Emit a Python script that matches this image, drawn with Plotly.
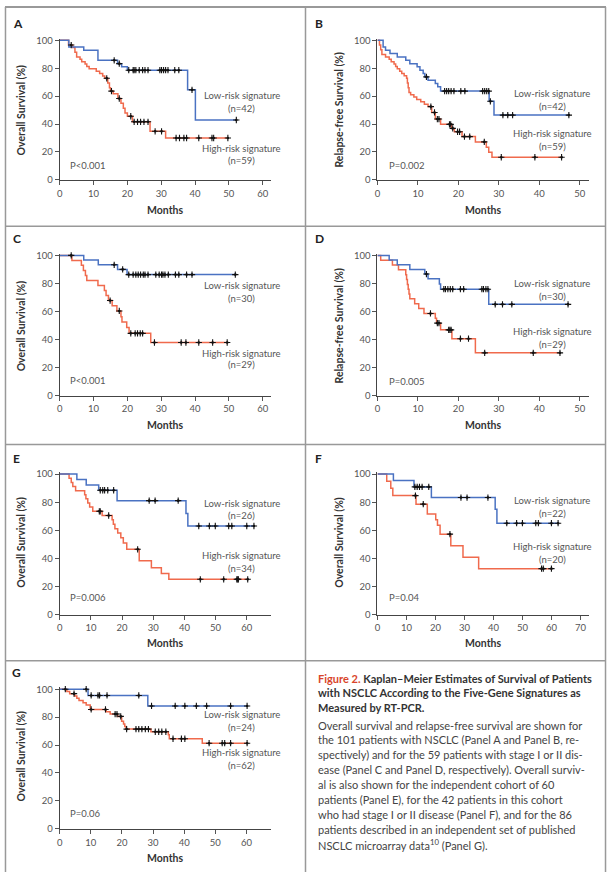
import plotly.graph_objects as go

W, H = 609, 877
BLUE = "#4a72c2"
RED = "#f06a4d"
FONT = "Lato"

# ---------------- data (months, survival %) ----------------
A_LOW_T = [0, 2.7, 7.1, 11.3, 17.1, 18.3, 20.0, 37.8, 40.1, 52.2]
A_LOW_S = [100, 95.2, 92.9, 85.7, 83.3, 81.0, 78.6, 64.5, 42.9, 42.9]
A_LOW_C = [16.1, 17.6, 20.4, 21.7, 22.0, 22.5, 23.5, 24.5, 25.2, 26.1, 29.6, 30.1,
           30.7, 31.3, 32.0, 34.0, 35.2, 39.1, 52.2]
A_HIGH_T = [0, 2.6, 3.8, 4.5, 5.0, 6.0, 6.5, 7.5, 8.0, 8.7, 10.8, 11.8, 12.7, 13.3,
            14.2, 14.7, 15.0, 15.8, 17.2, 18.1, 18.8, 19.3, 20.0, 21.5, 26.7, 31.3, 49.7]
A_HIGH_S = [100, 96.6, 94.9, 91.5, 88.1, 86.4, 84.7, 83.0, 81.3, 79.6, 77.9, 76.2, 74.5,
            72.8, 69.4, 66.0, 63.6, 61.7, 58.3, 54.9, 51.4, 48.0, 45.6, 41.6, 34.8, 30.0, 30.0]
A_HIGH_C = [3.4, 13.9, 15.3, 17.6, 21.0, 22.0, 23.0, 23.9, 24.9, 26.1, 28.2, 30.1, 34.4,
            35.4, 36.7, 37.5, 41.1, 45.0, 45.5, 49.7]

B_LOW_T = [0, 1.4, 2.0, 3.1, 4.9, 7.0, 8.0, 9.8, 10.5, 11.3, 11.7, 12.5, 14.3, 14.9,
           15.6, 27.6, 28.8, 47.3]
B_LOW_S = [100, 95.2, 92.9, 90.5, 88.1, 85.7, 83.3, 81.0, 78.6, 76.2, 73.8, 71.4, 69.0,
           66.7, 63.6, 56.3, 46.4, 46.4]
B_LOW_C = [12.1, 16.6, 17.1, 17.6, 18.2, 18.9, 20.6, 21.6, 26.0, 26.5, 27.0, 27.5, 27.9,
           31.0, 32.2, 33.4, 47.3]
B_HIGH_T = [0, 0.5, 0.8, 1.1, 2.0, 2.9, 3.4, 4.1, 4.5, 4.9, 5.5, 6.0, 6.6, 7.2, 7.4, 7.6,
            7.8, 8.2, 9.0, 9.7, 10.7, 11.6, 12.5, 13.4, 14.3, 15.6, 18.3, 19.0, 20.9, 24.2,
            26.9, 27.5, 28.3, 45.5]
B_HIGH_S = [100, 96.6, 93.2, 89.8, 88.1, 86.4, 84.7, 83.0, 81.3, 79.6, 77.9, 76.3, 74.6,
            72.9, 69.5, 66.1, 62.7, 61.0, 59.3, 57.6, 55.9, 54.2, 52.5, 48.3, 43.6, 39.8,
            36.9, 34.5, 31.0, 27.2, 23.4, 19.8, 16.2, 16.2]
B_HIGH_C = [13.2, 14.1, 14.8, 15.2, 17.8, 18.1, 18.6, 19.8, 20.3, 21.5, 22.8, 26.4, 30.6,
            38.9, 45.5]

C_LOW_T = [0, 7.1, 11.4, 17.1, 19.9, 51.9]
C_LOW_S = [100, 96.7, 93.3, 90.0, 86.3, 86.3]
C_LOW_C = [16.1, 18.6, 20.4, 21.7, 22.5, 23.2, 23.9, 24.7, 25.2, 26.1, 28.4, 29.4, 30.1,
           30.5, 31.1, 32.1, 34.2, 35.2, 37.5, 39.1, 51.9]
C_HIGH_T = [0, 3.6, 6.4, 7.0, 7.6, 8.0, 11.3, 13.2, 13.7, 14.4, 15.5, 16.9, 18.1, 18.4,
            19.8, 20.5, 26.9, 49.5]
C_HIGH_S = [100, 96.4, 92.9, 89.3, 85.7, 82.1, 78.6, 75.0, 71.4, 67.8, 64.1, 60.4, 56.3,
            52.5, 48.6, 44.4, 37.9, 37.9]
C_HIGH_C = [3.4, 14.9, 17.6, 21.0, 22.3, 23.0, 23.8, 24.5, 28.0, 35.9, 37.3, 41.1, 45.2, 49.5]

D_LOW_T = [0, 2.9, 4.9, 8.0, 11.7, 12.5, 15.3, 15.6, 27.5, 47.1]
D_LOW_S = [100, 96.7, 93.3, 90.0, 86.7, 83.3, 79.6, 75.9, 65.1, 65.1]
D_LOW_C = [12.1, 16.4, 16.8, 17.4, 18.0, 18.6, 20.5, 21.3, 25.8, 26.2, 26.8, 27.3, 29.1,
           30.9, 33.2, 47.1]
D_HIGH_T = [0, 0.8, 3.7, 5.2, 7.0, 7.2, 7.4, 7.6, 7.8, 8.0, 9.2, 10.2, 11.5, 14.3, 14.6,
            15.6, 18.4, 24.2, 45.1]
D_HIGH_S = [100, 96.6, 93.1, 89.7, 86.2, 82.8, 79.3, 75.9, 72.4, 69.0, 65.5, 62.1, 58.6,
            55.2, 51.7, 46.9, 40.6, 30.5, 30.5]
D_HIGH_C = [13.1, 14.8, 15.2, 17.6, 17.9, 18.2, 20.5, 22.5, 26.5, 38.5, 45.1]

E_LOW_T = [0, 5.5, 8.5, 12.5, 18.4, 40.5, 41.1, 62.3]
E_LOW_S = [100, 96.2, 92.3, 88.5, 81.1, 72.0, 63.0, 63.0]
E_LOW_C = [13.0, 13.8, 14.4, 15.4, 17.3, 28.7, 30.6, 38.0, 44.6, 48.0, 49.9, 54.2, 55.2,
           60.0, 62.3]
E_HIGH_T = [0, 3.0, 3.7, 4.2, 5.1, 8.0, 8.4, 9.0, 9.6, 10.6, 13.6, 16.8, 17.2, 17.7,
            18.6, 19.6, 20.4, 21.5, 25.5, 29.4, 32.6, 35.0, 60.3]
E_HIGH_S = [100, 97.1, 94.1, 91.2, 88.2, 85.3, 82.4, 79.4, 76.5, 73.5, 70.5, 67.4, 64.2,
            61.0, 58.0, 54.7, 50.8, 46.4, 38.3, 33.3, 29.1, 25.0, 25.0]
E_HIGH_C = [12.7, 13.0, 15.7, 25.0, 45.1, 52.6, 56.8, 57.1, 57.3, 60.3]

F_LOW_T = [0, 5.5, 12.6, 18.6, 40.6, 41.2, 62.3]
F_LOW_S = [100, 95.5, 90.9, 83.3, 75.0, 65.0, 65.0]
F_LOW_C = [12.9, 13.7, 14.5, 15.4, 17.7, 28.8, 30.9, 38.1, 44.6, 48.0, 50.0, 54.6, 55.5,
           60.0, 62.3]
F_HIGH_T = [0, 3.2, 4.6, 5.3, 13.3, 17.2, 20.1, 20.7, 21.6, 25.3, 29.5, 34.9, 60.0]
F_HIGH_S = [100, 95.0, 90.0, 84.7, 78.6, 71.5, 67.5, 63.5, 57.2, 49.0, 40.8, 32.6, 32.6]
F_HIGH_C = [13.1, 15.8, 25.0, 56.6, 57.2, 60.0]

G_LOW_T = [0, 9.1, 28.3, 60.2]
G_LOW_S = [100, 95.5, 88.0, 88.0]
G_LOW_C = [8.5, 10.1, 12.3, 12.8, 15.2, 25.4, 29.5, 37.1, 40.2, 43.9, 47.2, 54.9, 60.2]
G_HIGH_T = [0, 2.3, 3.2, 4.8, 5.5, 6.2, 7.5, 8.5, 9.8, 14.9, 16.2, 18.6, 19.9, 20.5, 20.9,
            21.3, 29.3, 34.9, 35.2, 45.8, 60.2]
G_HIGH_S = [100, 98.4, 96.8, 95.2, 93.5, 91.9, 90.3, 88.7, 85.5, 83.9, 82.2, 80.5, 77.0,
            75.0, 73.2, 71.4, 69.5, 67.4, 64.5, 61.3, 61.3]
G_HIGH_C = [1.8, 4.6, 10.1, 14.7, 17.8, 18.4, 19.6, 21.5, 24.5, 25.4, 26.4, 27.5, 28.5,
            30.7, 31.8, 32.8, 34.1, 36.4, 39.1, 40.2, 48.0, 52.2, 53.0, 54.9, 60.2]

N_LOW = {"A": 42, "B": 42, "C": 30, "D": 30, "E": 26, "F": 22, "G": 24}
N_HIGH = {"A": 59, "B": 59, "C": 29, "D": 29, "E": 34, "F": 20, "G": 62}
P_TEXT = {"A": "P<0.001", "B": "P=0.002", "C": "P<0.001", "D": "P=0.005",
          "E": "P=0.006", "F": "P=0.04", "G": "P=0.06"}
Y_TITLE = {"A": "Overall Survival (%)", "B": "Relapse-free Survival (%)",
           "C": "Overall Survival (%)", "D": "Relapse-free Survival (%)",
           "E": "Overall Survival (%)", "F": "Overall Survival (%)",
           "G": "Overall Survival (%)"}
X_TICKS = {"A": [0, 10, 20, 30, 40, 50, 60], "B": [0, 10, 20, 30, 40, 50],
           "C": [0, 10, 20, 30, 40, 50, 60], "D": [0, 10, 20, 30, 40, 50],
           "E": [0, 10, 20, 30, 40, 50, 60], "F": [0, 10, 20, 30, 40, 50, 60, 70],
           "G": [0, 10, 20, 30, 40, 50, 60]}
Y_TICKS = [0, 20, 40, 60, 80, 100]

SERIES = {
    "A": ((A_LOW_T, A_LOW_S, A_LOW_C), (A_HIGH_T, A_HIGH_S, A_HIGH_C)),
    "B": ((B_LOW_T, B_LOW_S, B_LOW_C), (B_HIGH_T, B_HIGH_S, B_HIGH_C)),
    "C": ((C_LOW_T, C_LOW_S, C_LOW_C), (C_HIGH_T, C_HIGH_S, C_HIGH_C)),
    "D": ((D_LOW_T, D_LOW_S, D_LOW_C), (D_HIGH_T, D_HIGH_S, D_HIGH_C)),
    "E": ((E_LOW_T, E_LOW_S, E_LOW_C), (E_HIGH_T, E_HIGH_S, E_HIGH_C)),
    "F": ((F_LOW_T, F_LOW_S, F_LOW_C), (F_HIGH_T, F_HIGH_S, F_HIGH_C)),
    "G": ((G_LOW_T, G_LOW_S, G_LOW_C), (G_HIGH_T, G_HIGH_S, G_HIGH_C)),
}

# ---------------- layout geometry (pixels) ----------------
# x0,x1: axis extent; xunit: px per month; ytop/ybot: px of 100 % / 0 %
GEOM = {
    "A": dict(x0=57, x1=269, xunit=3.4, ytop=36.7, ybot=177.7),
    "B": dict(x0=376.3, x1=589, xunit=4.067, ytop=36.7, ybot=177.7),
    "C": dict(x0=57, x1=269, xunit=3.4, ytop=254, ybot=395.7),
    "D": dict(x0=376.3, x1=589, xunit=4.067, ytop=254, ybot=395.7),
    "E": dict(x0=57, x1=269, xunit=3.133, ytop=475, ybot=616.7),
    "F": dict(x0=376.3, x1=589, xunit=2.914, ytop=475, ybot=616.7),
    "G": dict(x0=57, x1=269, xunit=3.128, ytop=692.3, ybot=833.3),
}
# label positions: label centre x, low label y, low n y, high label y, high n y, P x, P y
LABELS = {
    "A": (240, 92.7, 106, 146, 158.3, 65, 163.3),
    "B": (552, 90.7, 103.3, 131, 144, 385.7, 163.3),
    "C": (240, 284.7, 298, 353, 364.7, 65, 380.7),
    "D": (552, 282.3, 295.3, 330.7, 344, 385.7, 381.3),
    "E": (240, 504.3, 516.7, 557.7, 570, 65, 600),
    "F": (552, 501.7, 515, 548.3, 561, 385.7, 600),
    "G": (240, 718.3, 731, 756.7, 769, 65, 818.3),
}
MONTHS_Y = {"A": 208, "B": 208, "C": 425.3, "D": 425.3, "E": 645.7, "F": 645.7, "G": 863.3}
YT_POS = {"A": (18.3, 107.3), "B": (338, 107.3), "C": (18.3, 325.5), "D": (338, 325.5),
          "E": (18.3, 544), "F": (338, 544), "G": (18.3, 760)}
LETTER_POS = {"A": (8, 20), "B": (312, 20), "C": (8, 237.3), "D": (312, 237.3),
              "E": (8, 459), "F": (312, 459), "G": (7.5, 675)}


def PX(p):
    return p / W


def PY(p):
    return 1 - p / H


def step_at(ts, ss, t):
    v = ss[0]
    for ti, si in zip(ts, ss):
        if ti <= t:
            v = si
        else:
            break
    return v


fig = go.Figure()
layout = dict(
    width=W, height=H, autosize=False,
    margin=dict(l=0, r=0, t=0, b=0),
    paper_bgcolor="white", plot_bgcolor="white",
    showlegend=False,
    font=dict(family=FONT, color="#444"),
)
annotations = []
shapes = []

YLO, YHI = -0.3, 101.3

for i, key in enumerate("ABCDEFG"):
    g = GEOM[key]
    idx = "" if i == 0 else str(i + 1)
    xa, ya = "x" + idx, "y" + idx
    k = (g["ybot"] - g["ytop"]) / 100.0
    dom_top = g["ytop"] - (YHI - 100) * k
    dom_bot = g["ybot"] + (0 - YLO) * k
    xmax = (g["x1"] - g["x0"]) / g["xunit"]
    layout["xaxis" + idx] = dict(
        domain=[PX(g["x0"]), PX(g["x1"])], range=[0, xmax], anchor=ya,
        tickvals=X_TICKS[key], ticks="outside", ticklen=4, tickwidth=1,
        tickcolor="#555", showline=True, linecolor="#444", linewidth=1,
        showgrid=False, zeroline=False,
        tickfont=dict(family=FONT, size=9.5, color="#555"), fixedrange=True,
    )
    layout["yaxis" + idx] = dict(
        domain=[PY(dom_bot), PY(dom_top)], range=[YLO, YHI], anchor=xa,
        tickvals=Y_TICKS, ticks="outside", ticklen=4, tickwidth=1,
        tickcolor="#555", showline=True, linecolor="#444", linewidth=1.2,
        showgrid=False, zeroline=False,
        tickfont=dict(family=FONT, size=9.5, color="#555"), fixedrange=True,
    )
    low, high = SERIES[key]
    for (ts, ss, cs), col in ((high, RED), (low, BLUE)):
        fig.add_trace(go.Scatter(x=ts, y=ss, mode="lines", line=dict(color=col, width=1.5, shape="hv"),
                                 xaxis=xa, yaxis=ya, hoverinfo="skip"))
    for (ts, ss, cs) in (high, low):
        cy = [step_at(ts, ss, c) for c in cs]
        fig.add_trace(go.Scatter(x=cs, y=cy, mode="markers",
                                 marker=dict(symbol="cross-thin", size=4.5, color="#111",
                                             line=dict(color="#111", width=1.1)),
                                 cliponaxis=False, xaxis=xa, yaxis=ya, hoverinfo="skip"))
        fig.add_trace(go.Scatter(x=cs, y=cy, mode="markers",
                                 marker=dict(symbol="circle", size=2.6, color="#111"),
                                 cliponaxis=False, xaxis=xa, yaxis=ya, hoverinfo="skip"))

    lx, ly1, ly2, hy1, hy2, ppx, ppy = LABELS[key]
    lab_font = dict(family=FONT, size=9.5, color="#555")
    for txt, yy in (("Low-risk signature", ly1), ("(n=%d)" % N_LOW[key], ly2),
                    ("High-risk signature", hy1), ("(n=%d)" % N_HIGH[key], hy2)):
        annotations.append(dict(x=PX(lx), y=PY(yy), xref="paper", yref="paper", text=txt,
                                showarrow=False, xanchor="center", yanchor="middle", font=lab_font))
    annotations.append(dict(x=PX(ppx), y=PY(ppy), xref="paper", yref="paper", text=P_TEXT[key],
                            showarrow=False, xanchor="left", yanchor="middle", font=lab_font))
    annotations.append(dict(x=PX((g["x0"] + g["x1"]) / 2), y=PY(MONTHS_Y[key]), xref="paper",
                            yref="paper", text="<b>Months</b>", showarrow=False,
                            xanchor="center", yanchor="middle",
                            font=dict(family=FONT, size=10.5, color="#333")))
    tx, ty = YT_POS[key]
    annotations.append(dict(x=PX(tx), y=PY(ty), xref="paper", yref="paper",
                            text="<b>%s</b>" % Y_TITLE[key], textangle=-90, showarrow=False,
                            xanchor="center", yanchor="middle",
                            font=dict(family=FONT, size=10.5, color="#333")))
    lxp, lyp = LETTER_POS[key]
    annotations.append(dict(x=PX(lxp), y=PY(lyp), xref="paper", yref="paper",
                            text="<b>%s</b>" % key, showarrow=False, xanchor="left",
                            yanchor="middle", font=dict(family=FONT, size=12, color="#222")))

# ---------------- caption ----------------
CAPTION_TITLE = [
    "<span style='color:#d9452b'>Figure 2.</span> Kaplan\u2013Meier Estimates of Survival of Patients",
    "with NSCLC According to the Five-Gene Signatures as",
    "Measured by RT-PCR.",
]
CAPTION_BODY = [
    "Overall survival and relapse-free survival are shown for",
    "the 101 patients with NSCLC (Panel A and Panel B, re-",
    "spectively) and for the 59 patients with stage I or II dis-",
    "ease (Panel C and Panel D, respectively). Overall surviv-",
    "al is also shown for the independent cohort of 60",
    "patients (Panel E), for the 42 patients in this cohort",
    "who had stage I or II disease (Panel F), and for the 86",
    "patients described in an independent set of published",
    "NSCLC microarray data<sup>10</sup> (Panel G).",
]
title_y = [681, 696, 711]
body_y = [729, 743.5, 758.5, 773.5, 788.5, 803.5, 819, 834, 849]
for txt, yy in zip(CAPTION_TITLE, title_y):
    annotations.append(dict(x=PX(314.7), y=PY(yy), xref="paper", yref="paper",
                            text="<b>%s</b>" % txt, showarrow=False, xanchor="left",
                            yanchor="middle", font=dict(family=FONT, size=11, color="#333")))
for txt, yy in zip(CAPTION_BODY, body_y):
    annotations.append(dict(x=PX(314.7), y=PY(yy), xref="paper", yref="paper",
                            text=txt, showarrow=False, xanchor="left",
                            yanchor="middle", font=dict(family=FONT, size=11, color="#444")))

# ---------------- frame ----------------
FRAME = "#999999"
def line(x0, y0, x1, y1, w=1.5):
    shapes.append(dict(type="line", xref="paper", yref="paper", x0=PX(x0), y0=PY(y0),
                       x1=PX(x1), y1=PY(y1), line=dict(color=FRAME, width=w), layer="below"))

line(2, 3, 606, 3, 2)
line(2.5, 3, 2.5, 877)
line(605.5, 3, 605.5, 877)
line(304, 3, 304, 877)
for yy in (224.5, 445, 663.5):
    line(2.5, yy, 605.5, yy)

layout["annotations"] = annotations
layout["shapes"] = shapes
fig.update_layout(**layout)
fig.write_html("out.html")
